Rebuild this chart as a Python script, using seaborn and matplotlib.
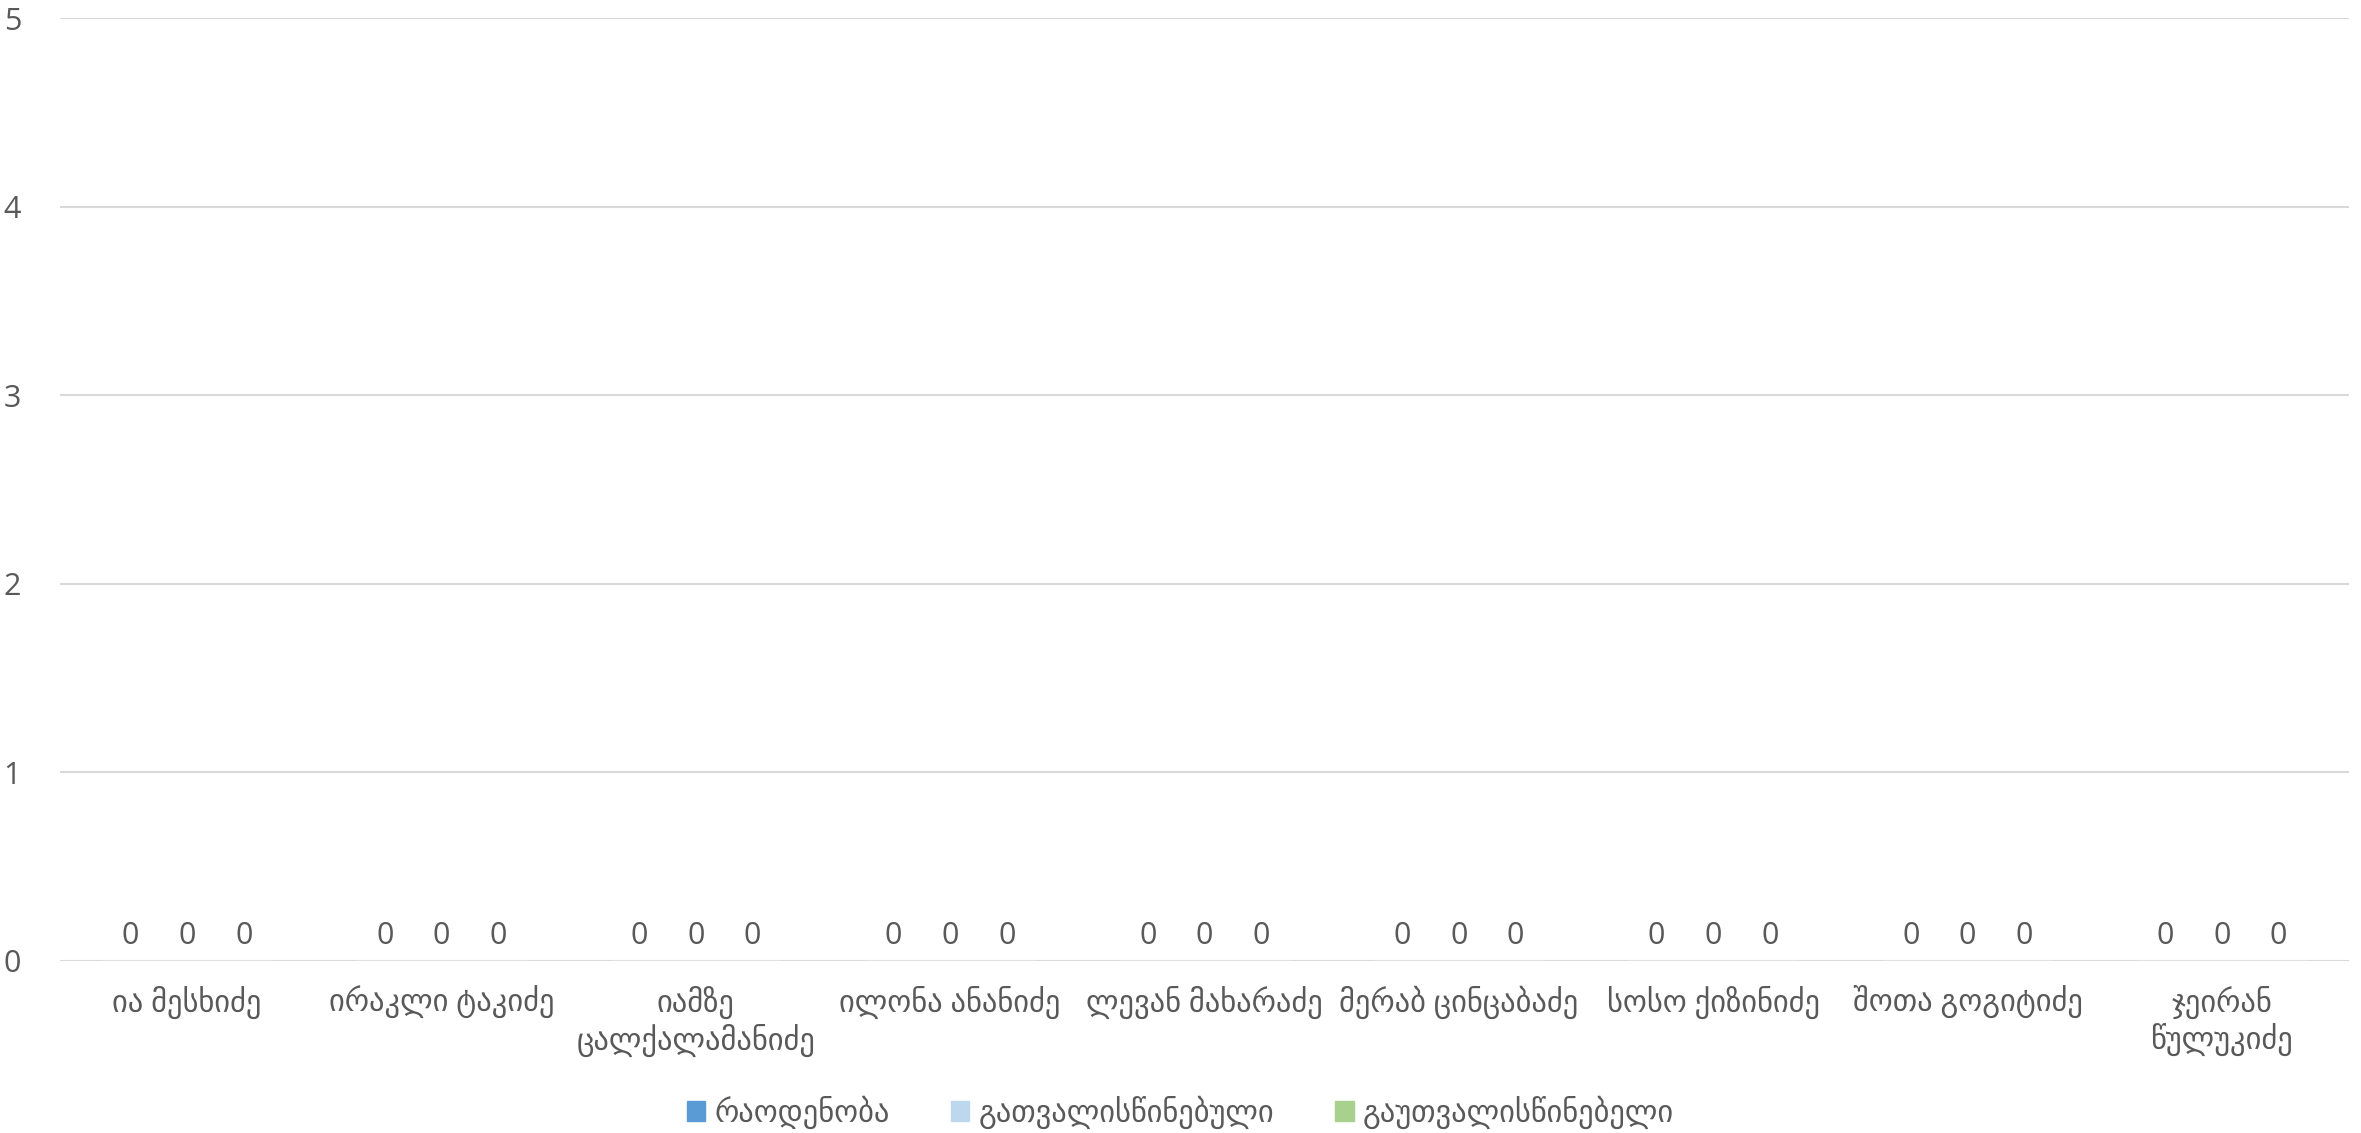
import pandas as pd
import matplotlib
matplotlib.use("Agg")
import matplotlib.pyplot as plt
import seaborn as sns

# data (all counts are zero)
names = [
    "ია მესხიძე",
    "ირაკლი ტაკიძე",
    "იამზე\nცალქალამანიძე",
    "ილონა ანანიძე",
    "ლევან მახარაძე",
    "მერაბ ცინცაბაძე",
    "სოსო ქიზინიძე",
    "შოთა გოგიტიძე",
    "ჯეირან\nწულუკიძე",
]
series = ["რაოდენობა", "გათვალისწინებული", "გაუთვალისწინებელი"]
counts = [0, 0, 0, 0, 0, 0, 0, 0, 0]
considered = [0, 0, 0, 0, 0, 0, 0, 0, 0]
not_considered = [0, 0, 0, 0, 0, 0, 0, 0, 0]
colors = ["#5B9BD5", "#BDD7EE", "#A9D18E"]

df = pd.DataFrame({
    "name": names * 3,
    "series": [s for s in series for _ in names],
    "value": counts + considered + not_considered,
})

sns.set_style("white")
plt.rcParams["font.family"] = ["Open Sans", "DejaVu Sans"]
text_color = "#595959"
fs = 22

fig, ax = plt.subplots(figsize=(23.61, 11.33), dpi=100)
fig.subplots_adjust(left=60 / 2361, right=2349 / 2361, top=1 - 18 / 1133, bottom=1 - 961 / 1133)

sns.barplot(data=df, x="name", y="value", hue="series", palette=colors,
            width=0.67, ax=ax, legend=False)

for c in ax.containers:
    ax.bar_label(c, fmt="%g", padding=7, fontsize=fs, color=text_color)

ax.set_ylim(0, 5)
ax.set_yticks(range(0, 6))
ax.set_xlim(-0.5, len(names) - 0.5)
ax.yaxis.grid(True, color="#D9D9D9", linewidth=1.5)
ax.set_axisbelow(True)
for s in ax.spines.values():
    s.set_visible(False)
ax.set_xlabel("")
ax.set_ylabel("")
ax.tick_params(axis="y", length=0, pad=28, labelsize=fs, labelcolor=text_color)
ax.tick_params(axis="x", length=0, pad=18, labelsize=fs, labelcolor=text_color)

handles = [plt.Rectangle((0, 0), 1, 1, color=col) for col in colors]
fig.legend(handles, series, loc="center", bbox_to_anchor=(0.5, 1 - 1112 / 1133),
           ncol=3, frameon=False, fontsize=fs, handlelength=0.6, handleheight=0.6,
           handletextpad=0.3, columnspacing=2.0, labelcolor=text_color)

fig.savefig("out.png", dpi=100)
